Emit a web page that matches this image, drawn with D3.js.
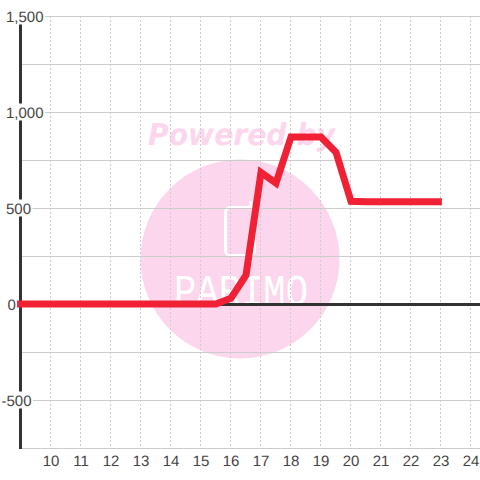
<!DOCTYPE html>
<html><head><meta charset="utf-8">
<script src="https://cdn.jsdelivr.net/npm/d3@7"></script>
<style>html,body{margin:0;padding:0;background:#fff}svg{display:block}text{text-rendering:geometricPrecision}</style></head>
<body><svg id="c" width="480" height="480"></svg>
<script>
const xTicks=[10,11,12,13,14,15,16,17,18,19,20,21,22,23,24];
const yTicks=[1500,1000,500,0,-500];
const yGrid=[1500,1250,1000,750,500,250,0,-250,-500,-750];
const xValues=[8.87,10,11,12,13,14,15,15.5,16,16.5,17,17.5,18,18.5,19,19.5,20,20.5,21,22,23.03];
const yValues=[0,0,0,0,0,0,0,0,30,150,685,630,870,870,870,790,535,532,532,532,532];

const svg=d3.select("#c");
const x=d3.scaleLinear().domain([9,24]).range([21,471]);
const y=d3.scaleLinear().domain([-750,1500]).range([448,16]);
const label=d=>d3.format(",")(d).replace("\u2212","-");
const font="'Liberation Sans',Arial,sans-serif";
const inkDark="#333", grid="#ccc", pink="#fcd6ed";

// watermark
const wm=svg.append("g").attr("opacity",0.995);
wm.append("circle").attr("cx",240).attr("cy",259).attr("r",99.5).attr("fill",pink);
wm.append("text").attr("x",148).attr("y",145)
  .attr("font-family","'DejaVu Sans'").attr("font-weight","bold").attr("font-style","italic")
  .attr("font-size",30).attr("textLength",187).attr("lengthAdjust","spacingAndGlyphs")
  .attr("fill",pink).text("Powered by");
wm.append("rect").attr("x",225.5).attr("y",207.5).attr("width",29).attr("height",48).attr("rx",5)
  .attr("fill","none").attr("stroke","#fff").attr("stroke-width",3);
wm.append("path").attr("d","M251 207V201").attr("stroke","#fff").attr("stroke-width",3);
wm.append("text").attr("x",174).attr("y",305)
  .attr("font-family","'Liberation Mono'").attr("font-size",44).attr("textLength",134)
  .attr("lengthAdjust","spacingAndGlyphs").attr("fill","#fff").text("PARIMO");

// grid
svg.append("g").selectAll("line").data(yGrid).join("line")
  .attr("x1",21).attr("x2",480).attr("y1",d=>Math.round(y(d))+.5).attr("y2",d=>Math.round(y(d))+.5)
  .attr("stroke",grid).attr("stroke-width",1);
svg.append("g").selectAll("line").data(xTicks).join("line")
  .attr("x1",d=>Math.round(x(d))-.5).attr("x2",d=>Math.round(x(d))-.5).attr("y1",16).attr("y2",448)
  .attr("stroke",grid).attr("stroke-width",1).attr("stroke-dasharray","2,2");

// axes
svg.append("line").attr("x1",20.5).attr("x2",20.5).attr("y1",16).attr("y2",449).attr("stroke",inkDark).attr("stroke-width",3);
svg.append("line").attr("x1",20).attr("x2",480).attr("y1",y(0)+.5).attr("y2",y(0)+.5).attr("stroke",inkDark).attr("stroke-width",3);

// y labels with knock-out background
const yl=svg.append("g").attr("opacity",0.995).selectAll("g").data(yTicks).join("g");
const tx=d=>d<0?1.5:d===0?7.5:6;
const yt=yl.append("text").attr("x",tx).attr("y",d=>y(d)+5.5)
  .attr("font-family",font).attr("font-size",15).attr("fill","#444").text(label);
yl.insert("rect","text").attr("x",d=>tx(d)-1)
  .attr("y",d=>y(d)-8.5).attr("height",17)
  .attr("width",function(d){return this.parentNode.querySelector("text").getComputedTextLength()+2.5;})
  .attr("fill","#fff");

// x labels
svg.append("g").attr("opacity",0.995).selectAll("text").data(xTicks).join("text")
  .attr("x",d=>x(d)).attr("y",466).attr("text-anchor","middle")
  .attr("font-family",font).attr("font-size",15).attr("fill","#444").text(d=>d);

// series
const line=d3.line().x((d,i)=>x(xValues[i])).y(d=>y(d));
svg.append("path").attr("d",line(yValues)).attr("fill","none").attr("stroke","#f02035")
  .attr("stroke-width",7).attr("stroke-linejoin","miter");
</script></body></html>
